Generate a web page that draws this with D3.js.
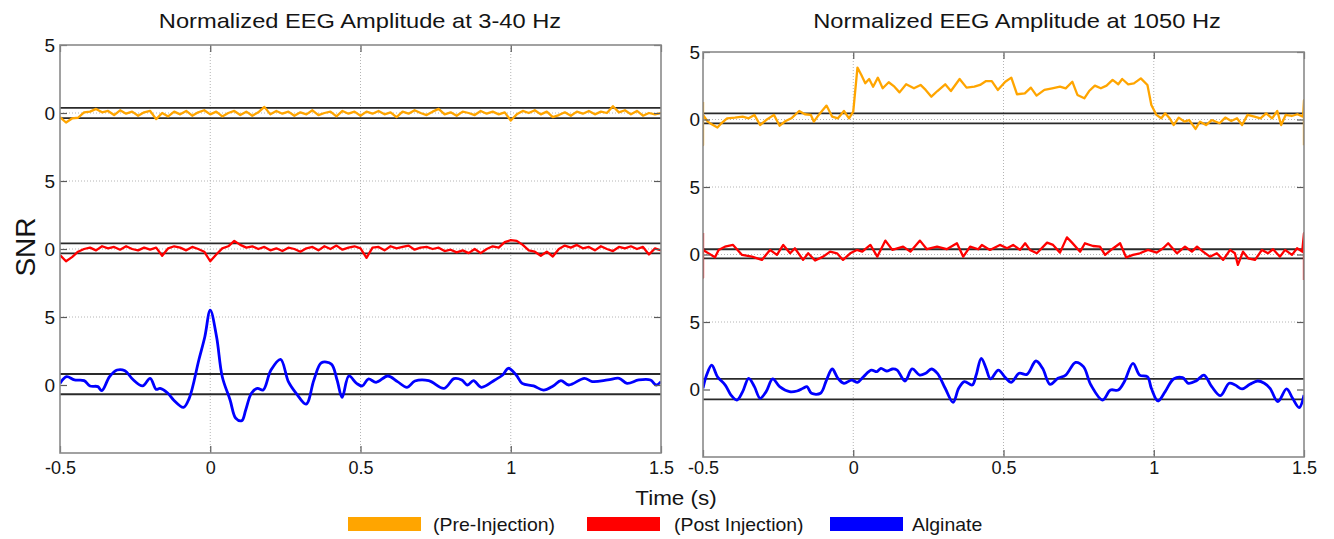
<!DOCTYPE html>
<html>
<head>
<meta charset="utf-8">
<script src="https://cdn.jsdelivr.net/npm/d3@7"></script>
<style>
  body { margin: 0; background: #fff; }
  text { font-family: "Liberation Sans", Arial, Helvetica, sans-serif; fill: #141414; }
</style>
</head>
<body>
<svg id="chart" width="1334" height="539"></svg>
<script>
// ---- data ----
var xTicks = [-0.5, 0, 0.5, 1, 1.5];
var yTicks = [0, 5, 10, 15, 20, 25];
var yTickLabels = ["0", "5", "0", "5", "0", "5"];
var traceOffsets = [20, 10, 0];           // pre, post, alginate stacked
var legendLabels = ["(Pre-Injection)", "(Post Injection)", "Alginate"];
var titles = ["Normalized EEG Amplitude at 3-40 Hz", "Normalized EEG Amplitude at 1050 Hz"];

// threshold lines (upper, lower) relative to each trace baseline
var lowThresholds = [[0.37, -0.37], [0.42, -0.32], [0.81, -0.68]];
var highThresholds = [[0.46, -0.28], [0.39, -0.28], [0.78, -0.73]];

// 3-40 Hz, sampled every 0.02 s from -0.5 s
var lowPre = [-0.3,-0.7,-0.4,-0.35,0.05,0.1,0.3,0.05,0.15,-0.15,
  0.2,-0.05,0.1,-0.2,0.05,0.15,-0.45,0.0,-0.25,0.1,
  -0.1,0.15,-0.2,0.05,0.2,-0.1,0.1,-0.25,0.0,0.15,
  -0.15,0.1,-0.2,0.05,0.45,-0.1,0.15,-0.05,0.1,-0.2,
  0.05,-0.1,0.2,-0.15,0.0,0.1,-0.25,0.15,-0.05,0.1,
  -0.2,0.1,-0.05,0.15,-0.1,0.05,-0.3,0.1,-0.05,0.2,
  0.0,-0.15,0.1,0.3,-0.1,0.05,-0.2,0.1,0.0,-0.15,
  0.15,-0.05,0.1,-0.1,0.05,-0.55,-0.1,0.15,0.0,0.2,
  -0.1,0.1,-0.3,-0.15,0.05,-0.2,0.1,-0.05,0.15,-0.1,
  0.1,0.0,0.5,0.05,0.2,-0.1,0.15,-0.2,0.0,-0.1,
  0.0];
var lowPost = [-0.45,-0.9,-0.6,-0.2,0.0,0.1,-0.1,0.2,0.05,0.15,
  -0.05,0.2,0.0,-0.1,0.1,-0.05,0.1,-0.5,0.05,0.2,
  0.1,-0.1,0.15,0.0,-0.2,-0.9,-0.4,0.05,0.2,0.6,
  0.3,0.1,0.2,0.0,0.15,-0.1,0.05,-0.15,0.1,0.0,
  -0.2,0.05,0.15,-0.1,0.2,0.0,0.25,-0.05,0.1,0.2,
  0.05,-0.65,0.1,0.15,-0.1,0.2,0.05,0.15,0.25,-0.05,
  0.1,0.15,0.0,0.1,-0.15,-0.05,-0.25,-0.1,-0.3,0.0,
  -0.3,0.0,0.2,0.1,0.5,0.65,0.6,0.3,-0.1,-0.2,
  -0.5,-0.2,-0.55,0.0,0.25,0.1,0.3,0.05,0.15,-0.1,
  0.2,0.0,-0.15,0.15,0.05,0.2,0.0,0.15,-0.4,0.05,
  -0.1];
var lowAlginate = [[-0.5,0.12],[-0.478,0.61],[-0.452,0.37],[-0.42,0.32],[-0.4,-0.07],[-0.374,-0.12],
  [-0.361,-0.42],[-0.335,0.61],[-0.31,1.1],[-0.284,1.05],[-0.258,0.42],[-0.225,-0.07],[-0.2,0.49],
  [-0.18,-0.32],[-0.167,-0.25],[-0.141,-0.61],[-0.122,-1.1],[-0.089,-1.64],[-0.07,-0.98],[-0.038,1.84],
  [-0.018,3.55],[0.0,5.5],[0.021,3.55],[0.04,0.61],[0.066,-1.1],[0.085,-2.45],[0.105,-2.62],
  [0.118,-1.84],[0.137,-0.61],[0.157,-0.25],[0.176,-0.37],[0.202,1.1],[0.234,1.89],[0.26,0.25],
  [0.286,-0.61],[0.319,-1.4],[0.345,0.37],[0.37,1.64],[0.403,1.54],[0.422,0.37],[0.439,-0.91],
  [0.461,0.66],[0.487,0.12],[0.506,-0.07],[0.526,0.44],[0.552,0.2],[0.591,0.66],[0.623,0.25],
  [0.655,-0.17],[0.681,0.29],[0.727,0.32],[0.778,-0.25],[0.811,0.47],[0.837,0.37],[0.856,0.0],
  [0.876,0.32],[0.902,-0.17],[0.947,0.37],[0.973,0.74],[0.992,1.23],[1.018,0.74],[1.038,0.12],
  [1.076,-0.07],[1.109,-0.37],[1.141,-0.07],[1.167,0.32],[1.193,0.0],[1.245,0.49],[1.271,0.25],
  [1.323,0.37],[1.361,0.49],[1.387,0.12],[1.426,0.37],[1.465,0.37],[1.484,0.0],[1.5,0.25]];

// 1050 Hz, [time, value]
var highPre = [[-0.5,1.3],[-0.5,-1.9],[-0.5,0.34],[-0.484,-0.16],[-0.471,-0.36],[-0.452,-0.6],[-0.439,-0.28],
  [-0.42,0.09],[-0.394,0.14],[-0.368,0.21],[-0.348,0.09],[-0.329,0.34],[-0.31,-0.41],[-0.29,-0.04],
  [-0.264,0.34],[-0.245,-0.46],[-0.225,-0.11],[-0.206,0.09],[-0.18,0.63],[-0.161,0.39],[-0.141,0.34],
  [-0.131,-0.16],[-0.115,0.34],[-0.089,1.03],[-0.07,0.21],[-0.051,0.09],[-0.031,0.63],[-0.014,0.09],
  [0.0,0.58],[0.014,3.84],[0.027,3.3],[0.04,2.68],[0.053,3.0],[0.066,2.43],[0.082,3.1],[0.098,2.31],
  [0.118,2.76],[0.137,2.43],[0.154,2.01],[0.176,2.61],[0.202,2.31],[0.224,2.56],[0.241,2.19],
  [0.26,1.69],[0.28,2.11],[0.306,2.61],[0.325,2.11],[0.354,3.0],[0.377,2.36],[0.403,2.43],
  [0.422,2.56],[0.442,2.85],[0.461,2.85],[0.481,2.19],[0.506,2.8],[0.526,3.1],[0.545,1.87],
  [0.571,1.94],[0.591,2.36],[0.61,1.77],[0.636,2.19],[0.662,2.31],[0.688,2.43],[0.707,2.31],
  [0.729,2.8],[0.746,1.82],[0.769,1.57],[0.785,2.11],[0.804,2.51],[0.824,2.31],[0.843,2.51],
  [0.863,2.93],[0.882,2.61],[0.895,3.0],[0.915,2.61],[0.934,2.68],[0.957,3.05],[0.979,2.56],
  [0.992,1.08],[1.009,0.34],[1.025,0.09],[1.038,0.46],[1.053,0.09],[1.066,-0.41],[1.083,0.14],
  [1.102,-0.16],[1.118,-0.04],[1.139,-0.7],[1.154,-0.16],[1.174,-0.41],[1.193,-0.04],[1.219,-0.28],
  [1.238,0.14],[1.258,-0.11],[1.277,0.09],[1.294,-0.41],[1.312,0.34],[1.335,0.21],[1.355,0.09],
  [1.374,0.46],[1.394,0.09],[1.411,0.63],[1.424,-0.41],[1.439,0.34],[1.459,0.26],[1.478,0.39],
  [1.497,0.21],[1.5,1.44],[1.5,-1.9]];
var highPost = [[-0.5,1.59],[-0.5,-1.72],[-0.5,0.34],[-0.46,-0.21],[-0.448,0.34],[-0.427,0.58],[-0.4,0.71],
  [-0.37,-0.03],[-0.337,-0.16],[-0.304,-0.4],[-0.277,0.34],[-0.254,-0.03],[-0.233,0.71],[-0.21,0.09],
  [-0.194,0.46],[-0.167,-0.4],[-0.15,0.09],[-0.127,-0.45],[-0.1,-0.16],[-0.077,0.21],[-0.054,0.09],
  [-0.034,-0.4],[-0.01,0.09],[0.012,0.34],[0.03,0.21],[0.057,0.71],[0.08,-0.16],[0.107,1.03],
  [0.13,0.34],[0.166,0.58],[0.19,0.21],[0.222,1.03],[0.245,0.39],[0.279,0.58],[0.311,0.39],
  [0.345,0.83],[0.366,-0.16],[0.389,0.58],[0.416,0.39],[0.428,0.71],[0.455,0.34],[0.488,0.71],
  [0.512,0.46],[0.532,0.71],[0.555,0.34],[0.572,0.83],[0.588,0.34],[0.611,0.09],[0.645,0.88],
  [0.665,0.71],[0.688,0.14],[0.711,1.27],[0.728,0.88],[0.755,0.21],[0.771,0.83],[0.798,0.63],
  [0.821,0.58],[0.838,-0.03],[0.861,0.39],[0.888,0.83],[0.908,-0.21],[0.931,-0.03],[0.954,0.09],
  [0.981,0.34],[1.01,0.14],[1.031,0.46],[1.048,0.83],[1.077,0.09],[1.104,0.58],[1.127,0.21],
  [1.144,0.58],[1.164,0.21],[1.187,-0.16],[1.21,0.09],[1.231,-0.4],[1.254,0.34],[1.27,0.09],
  [1.28,-0.77],[1.297,0.21],[1.314,-0.28],[1.337,-0.4],[1.36,0.34],[1.38,0.09],[1.397,0.39],
  [1.42,-0.16],[1.437,0.34],[1.46,-0.03],[1.477,0.46],[1.494,0.21],[1.5,1.59],[1.5,-1.89]];
var highAlginate = [[-0.5,0.09],[-0.488,1.07],[-0.471,1.81],[-0.452,0.95],[-0.426,0.33],[-0.407,-0.41],
  [-0.387,-0.78],[-0.368,-0.16],[-0.348,0.83],[-0.329,0.21],[-0.31,-0.65],[-0.29,-0.16],[-0.268,0.78],
  [-0.245,0.21],[-0.212,-0.16],[-0.187,-0.11],[-0.167,0.09],[-0.154,0.21],[-0.139,-0.28],[-0.109,-0.28],
  [-0.089,0.7],[-0.07,1.52],[-0.051,0.83],[-0.031,0.46],[-0.005,0.7],[0.014,0.53],[0.034,0.95],
  [0.06,1.44],[0.079,1.32],[0.092,1.57],[0.111,1.37],[0.131,1.52],[0.146,1.44],[0.172,0.63],
  [0.196,1.52],[0.221,1.07],[0.241,1.2],[0.26,1.52],[0.28,1.2],[0.306,0.09],[0.332,-0.95],
  [0.351,0.09],[0.37,0.58],[0.396,0.33],[0.409,1.07],[0.426,2.31],[0.442,1.57],[0.457,0.78],
  [0.483,1.44],[0.506,0.88],[0.526,0.53],[0.552,1.2],[0.578,1.12],[0.608,2.11],[0.63,1.57],
  [0.655,0.38],[0.681,0.83],[0.707,1.07],[0.74,2.01],[0.766,1.69],[0.791,0.33],[0.83,-0.78],
  [0.856,-0.04],[0.882,-0.04],[0.902,0.58],[0.931,1.94],[0.953,1.07],[0.979,0.95],[0.992,0.09],
  [1.014,-0.85],[1.038,-0.16],[1.066,0.78],[1.096,0.88],[1.115,0.46],[1.141,0.63],[1.167,1.07],
  [1.193,0.21],[1.222,-0.46],[1.251,0.46],[1.271,0.33],[1.294,0.04],[1.32,0.38],[1.346,0.63],
  [1.368,0.46],[1.387,0.09],[1.413,-0.9],[1.442,0.04],[1.462,-0.65],[1.484,-1.34],[1.5,-0.41]];

// ---- layout ----
var svg = d3.select("#chart");
var colors = ["#FFA500", "#FF0000", "#0000FF"];
var strokeW = [2.3, 2.3, 2.8];
var sampled = function(arr) { return arr.map(function(v, i) { return [-0.5 + i * 0.02, v]; }); };

var panels = [
  {title: titles[0], titleX: 360, x0: 60, x1: 661, y0: 45, y1: 453, labelPad: 5,
   series: [sampled(lowPre), sampled(lowPost), lowAlginate], thr: lowThresholds},
  {title: titles[1], titleX: 1017, x0: 703, x1: 1304, y0: 52, y1: 457, labelPad: 3,
   series: [highPre, highPost, highAlginate], thr: highThresholds}
];

function stretchedText(parent, str, x, y, size, sx, anchor) {
  return parent.append("text")
    .attr("transform", "translate(" + x + "," + y + ") scale(" + sx + ",1)")
    .attr("text-anchor", anchor || "middle")
    .style("font-size", size + "px")
    .text(str);
}

panels.forEach(function(p, pi) {
  var x = d3.scaleLinear().domain([-0.5, 1.5]).range([p.x0, p.x1]);
  var y = d3.scaleLinear().domain([-5, 25]).range([p.y1, p.y0]);
  var g = svg.append("g");

  g.append("defs").append("clipPath").attr("id", "clip" + pi)
    .append("rect").attr("x", p.x0).attr("y", p.y0)
    .attr("width", p.x1 - p.x0).attr("height", p.y1 - p.y0);

  // dotted grid
  g.append("g").selectAll("line").data(xTicks.slice(1, -1)).join("line")
    .attr("x1", function(d) { return x(d); }).attr("x2", function(d) { return x(d); })
    .attr("y1", p.y0).attr("y2", p.y1)
    .attr("stroke", "#b4b4b4").attr("stroke-width", 1).attr("stroke-dasharray", "1,2");
  g.append("g").selectAll("line").data(yTicks.slice(1, -1)).join("line")
    .attr("y1", function(d) { return y(d); }).attr("y2", function(d) { return y(d); })
    .attr("x1", p.x0).attr("x2", p.x1)
    .attr("stroke", "#b4b4b4").attr("stroke-width", 1).attr("stroke-dasharray", "1,2");

  // threshold lines
  p.thr.forEach(function(pair, si) {
    g.append("g").selectAll("line").data(pair).join("line")
      .attr("x1", p.x0).attr("x2", p.x1)
      .attr("y1", function(d) { return y(traceOffsets[si] + d); })
      .attr("y2", function(d) { return y(traceOffsets[si] + d); })
      .attr("stroke", "#2a2a2a").attr("stroke-width", 1.8);
  });

  // traces
  p.series.forEach(function(data, si) {
    var line = d3.line()
      .x(function(d) { return x(d[0]); })
      .y(function(d) { return y(traceOffsets[si] + d[1]); })
      .curve(si === 2 ? d3.curveCatmullRom.alpha(0.5) : d3.curveLinear);
    g.append("path").datum(data)
      .attr("clip-path", "url(#clip" + pi + ")")
      .attr("fill", "none")
      .attr("stroke", colors[si])
      .attr("stroke-width", strokeW[si])
      .attr("stroke-linejoin", "round")
      .attr("d", line);
  });

  // axes: tick marks point inward, box drawn separately
  var ax = g.append("g").attr("transform", "translate(0," + p.y1 + ")")
    .call(d3.axisBottom(x).tickValues(xTicks).tickFormat(function(d) { return String(d); })
      .tickSize(-7).tickSizeOuter(0).tickPadding(474 - p.y1 - 12.4));
  ax.select(".domain").remove();
  ax.selectAll("text").style("font-size", "18px").style("font-family", null);

  var axt = g.append("g").attr("transform", "translate(0," + p.y0 + ")")
    .call(d3.axisTop(x).tickValues(xTicks).tickFormat("").tickSize(-7).tickSizeOuter(0));
  axt.select(".domain").remove();

  var ayl = g.append("g").attr("transform", "translate(" + p.x0 + ",0)")
    .call(d3.axisLeft(y).tickValues(yTicks).tickFormat(function(d, i) { return yTickLabels[i]; })
      .tickSize(-7).tickSizeOuter(0).tickPadding(p.labelPad));
  ayl.select(".domain").remove();
  ayl.selectAll("text").style("font-size", "19px").style("font-family", null);

  var ayr = g.append("g").attr("transform", "translate(" + p.x1 + ",0)")
    .call(d3.axisRight(y).tickValues(yTicks).tickFormat("").tickSize(-7).tickSizeOuter(0));
  ayr.select(".domain").remove();

  g.selectAll(".tick line").attr("stroke", "#5a5a5a").attr("stroke-width", 1.2);
  g.selectAll(".tick text").attr("fill", "#141414");

  g.append("rect")
    .attr("x", p.x0).attr("y", p.y0)
    .attr("width", p.x1 - p.x0).attr("height", p.y1 - p.y0)
    .attr("fill", "none").attr("stroke", "#8a8a8a").attr("stroke-width", 1.6);

  stretchedText(svg, p.title, p.titleX, 28, 20.5, 1.155);
});

// axis titles
stretchedText(svg, "Time (s)", 676, 505, 19.5, 1.15);
svg.append("text")
  .attr("transform", "translate(35,247) rotate(-90)")
  .attr("text-anchor", "middle")
  .style("font-size", "28px")
  .text("SNR");

// legend
var legendRectX = [348, 587, 830];
var legendTextX = [433, 674, 912];
var legend = svg.append("g");
legendLabels.forEach(function(lbl, i) {
  legend.append("rect")
    .attr("x", legendRectX[i]).attr("y", 517)
    .attr("width", 73).attr("height", 14)
    .attr("fill", colors[i]);
  stretchedText(legend, lbl, legendTextX[i], 531, 18, 1.08, "start");
});
</script>
</body>
</html>
